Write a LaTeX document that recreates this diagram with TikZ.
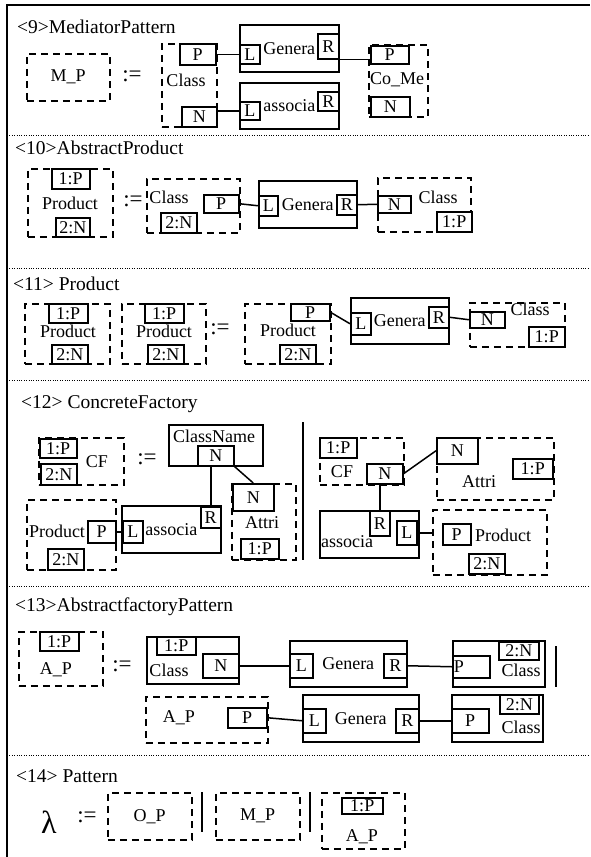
\documentclass[tikz,border=0pt]{standalone}
\usepackage{fontspec}
\setmainfont{Liberation Serif}
\usepackage{tikz}
\usetikzlibrary{positioning}
\newcommand{\lblfont}{\fontsize{18}{18}\selectfont}
\newcommand{\headfont}{\fontsize{19.5}{20}\selectfont}
\tikzset{
  wh/.style 2 args={minimum width=#1pt,minimum height=#2pt},
  box-dash/.style={draw,line width=1.5pt,dash pattern=on 7pt off 5pt,
    anchor=north west,inner sep=0pt,font=\lblfont},
  box-solid/.style={draw,line width=1.5pt,anchor=north west,inner sep=0pt,
    font=\lblfont},
  box-port/.style={draw,line width=1.5pt,fill=white,anchor=north west,
    inner sep=0pt,font=\lblfont},
  txt-label/.style={inner sep=0pt,font=\lblfont},
  txt-def/.style={inner sep=0pt,font=\fontsize{23}{23}\selectfont},
  txt-head/.style={anchor=base west,inner sep=0pt,font=\headfont},
  sep-dot/.style={line width=0.7pt,dash pattern=on 0.8pt off 1.6pt},
  sep-bar/.style={line width=1.5pt},
  link/.style={line width=1.5pt},
  frame/.style={line width=2pt},
}

\begin{document}
\begin{tikzpicture}[x=1pt,y=-1pt]
  \useasboundingbox (0,0) rectangle (590,857);
  \draw[frame] (7,857) -- (7,5) -- (590,5);
  \foreach \y in {135,268,380,586,755}
    \draw[sep-dot] (7,\y) -- (590,\y);

  % <9>
  \node[txt-head] (h9) at (17,33) {<9>MediatorPattern};
  \node[box-dash,wh={83}{47}] (mp9) at (26,53) {M\_P};
  \node[txt-def] (def9) at (132,76) {:=};
  \node[box-dash,wh={55}{83}] (cl9) at (161,43) {};
  \node[box-port,wh={36}{21}] (cl9P) at (179,43) {P};
  \node[txt-label] (cl9t) at (186,80) {Class};
  \node[box-port,wh={35}{20}] (cl9N) at (181,106) {N};
  \node[box-solid,wh={99}{47}] (gen9) at (239,24) {Genera};
  \node[box-port,wh={20}{19}] (gen9L) at (239,44) {L};
  \node[box-port,wh={21}{25}] (gen9R) at (317,33) {R};
  \node[box-solid,wh={99}{46}] (as9) at (239,82) {associa};
  \node[box-port,wh={20}{18}] (as9L) at (239,101) {L};
  \node[box-port,wh={21}{19}] (as9R) at (317,91) {R};
  \node[box-dash,wh={59}{72}] (cm9) at (368,44) {};
  \node[box-port,wh={38}{18}] (cm9P) at (370,45) {P};
  \node[txt-label] (cm9t) at (397,80) {Co\_Me};
  \node[box-port,wh={39}{20}] (cm9N) at (370,96) {N};
  \draw[link] (cl9P.east) -- (gen9L.west);
  \draw[link] (as9L.west) -- (as9L.west -| cl9N.east);
  \draw[link] (gen9R.south east) -- (gen9R.south east -| cm9P.west);

  % <10>
  \node[txt-head] (h10) at (15,154) {<10>AbstractProduct};
  \node[box-dash,wh={85}{68}] (pr10) at (27,168) {};
  \node[box-port,wh={38}{20}] (pr10a) at (51,168) {1:P};
  \node[txt-label] (pr10t) at (70,203) {Product};
  \node[box-port,wh={34}{19}] (pr10b) at (55,217) {2:N};
  \node[txt-def] (def10) at (133,201) {:=};
  \node[box-dash,wh={93}{54}] (cl10) at (146,178) {};
  \node[txt-label] (cl10t) at (169,197) {Class};
  \node[box-port,wh={35}{18}] (cl10P) at (203,194) {P};
  \node[box-port,wh={36}{20}] (cl10N) at (160,212) {2:N};
  \node[box-solid,wh={98}{47}] (gen10) at (258,180) {Genera};
  \node[box-port,wh={19}{20}] (gen10L) at (258,195) {L};
  \node[box-port,wh={20}{20}] (gen10R) at (336,194) {R};
  \node[box-dash,wh={93}{54}] (cr10) at (377,177) {};
  \node[box-port,wh={33}{17}] (cr10N) at (377,195) {N};
  \node[txt-label] (cr10t) at (438,197) {Class};
  \node[box-port,wh={35}{20}] (cr10P) at (436,211) {1:P};
  \draw[link] (cl10P.east) -- (gen10L.west);
  \draw[link] (gen10R.east) -- (cr10N.west);

  % <11>
  \node[txt-head] (h11) at (13,290) {<11> Product};
  \node[box-dash,wh={85}{60}] (pa11) at (24,303) {};
  \node[box-port,wh={39}{19}] (pa11a) at (48,303) {1:P};
  \node[txt-label] (pa11t) at (68,331) {Product};
  \node[box-port,wh={36}{19}] (pa11b) at (51,344) {2:N};
  \node[box-dash,wh={84}{60}] (pb11) at (121,303) {};
  \node[box-port,wh={39}{19}] (pb11a) at (144,303) {1:P};
  \node[txt-label] (pb11t) at (164,331) {Product};
  \node[box-port,wh={36}{19}] (pb11b) at (147,344) {2:N};
  \node[txt-def] (def11) at (220,329) {:=};
  \node[box-dash,wh={86}{60}] (pc11) at (244,303) {};
  \node[box-port,wh={39}{17}] (pc11P) at (290,303) {P};
  \node[txt-label] (pc11t) at (288,330) {Product};
  \node[box-port,wh={36}{19}] (pc11b) at (279,344) {2:N};
  \node[box-solid,wh={98}{46}] (gen11) at (350,297) {Genera};
  \node[box-port,wh={20}{22}] (gen11L) at (350,312) {L};
  \node[box-port,wh={20}{21}] (gen11R) at (428,306) {R};
  \node[box-dash,wh={95}{44}] (cl11) at (469,302) {};
  \node[box-port,wh={35}{16}] (cl11N) at (469,311) {N};
  \node[txt-label] (cl11t) at (530,309) {Class};
  \node[box-port,wh={36}{20}] (cl11P) at (528,326) {1:P};
  \draw[link] (pc11P.east) -- (gen11L.west);
  \draw[link] (gen11R.east) -- (cl11N.west);

  % <12>
  \node[txt-head] (h12) at (21,408) {<12> ConcreteFactory};
  \node[box-dash,wh={85}{47}] (cf12) at (38,437) {};
  \node[box-port,wh={37}{19}] (cf12a) at (39,438) {1:P};
  \node[box-port,wh={36}{21}] (cf12b) at (40,463) {2:N};
  \node[txt-label] (cf12t) at (97,462) {CF};
  \node[txt-def] (def12) at (147,459) {:=};
  \node[box-solid,wh={94}{41}] (cn12) at (168,424) {};
  \node[txt-label] (cn12t) at (214,436) {ClassName};
  \node[box-port,wh={36}{20}] (cn12N) at (197,445) {N};
  \node[box-dash,wh={89}{70}] (pr12) at (26,499) {};
  \node[txt-label] (pr12t) at (57,531) {Product};
  \node[box-port,wh={28}{22}] (pr12P) at (87,520) {P};
  \node[box-port,wh={36}{21}] (pr12b) at (47,548) {2:N};
  \node[box-solid,wh={99}{47}] (as12) at (121,505) {associa};
  \node[box-port,wh={20}{22}] (as12L) at (122,520) {L};
  \node[box-port,wh={20}{21}] (as12R) at (200,506) {R};
  \node[box-dash,wh={64}{76}] (at12) at (231,483) {};
  \node[box-port,wh={41}{27}] (at12N) at (232,483) {N};
  \node[txt-label] (at12t) at (262,523) {Attri};
  \node[box-port,wh={38}{20}] (at12P) at (240,538) {1:P};
  \draw[link] (as12R.north) -- (as12R.north |- cn12N.south);
  \draw[link] (cn12N.south east) -- (at12N.north);
  \draw[link] (pr12P.east) -- (as12L.west);
  \draw[sep-bar] (303,422) -- (303,560);
  \node[box-dash,wh={84}{47}] (cf12r) at (319,437) {};
  \node[box-port,wh={37}{20}] (cf12rA) at (319,437) {1:P};
  \node[txt-label] (cf12rt) at (342,472) {CF};
  \node[box-port,wh={36}{20}] (cf12rN) at (366,463) {N};
  \node[box-dash,wh={117}{62}] (at12r) at (436,437) {};
  \node[box-port,wh={41}{26}] (at12rN) at (436,437) {N};
  \node[box-port,wh={40}{20}] (at12rP) at (512,458) {1:P};
  \node[txt-label] (at12rt) at (479,482) {Attri};
  \node[box-solid,wh={99}{47}] (as12r) at (319,510) {};
  \node[txt-label] (as12rt) at (347,542) {associa};
  \node[box-port,wh={20}{25}] (as12rR) at (369,510) {R};
  \node[box-port,wh={20}{24}] (as12rL) at (396,520) {L};
  \node[box-dash,wh={114}{65}] (pr12r) at (432,509) {};
  \node[box-port,wh={28}{21}] (pr12rP) at (442,523) {P};
  \node[txt-label] (pr12rt) at (503,535) {Product};
  \node[box-port,wh={36}{20}] (pr12rb) at (468,553) {2:N};
  \draw[link] (cf12rN.east) -- (at12rN.west);
  \draw[link] (as12rR.north) -- (as12rR.north |- cf12rN.south);
  \draw[link] (as12rL.east) -- (as12rL.east -| pr12r.west);

  % <13>
  \node[txt-head] (h13) at (15,611) {<13>AbstractfactoryPattern};
  \node[box-dash,wh={84}{54}] (ap13) at (18,631) {};
  \node[box-port,wh={39}{19}] (ap13a) at (39,631) {1:P};
  \node[txt-label] (ap13t) at (56,670) {A\_P};
  \node[txt-def] (def13) at (122,666) {:=};
  \node[box-solid,wh={92}{47}] (cl13) at (146,636) {};
  \node[box-port,wh={39}{18}] (cl13a) at (156,636) {1:P};
  \node[box-port,wh={36}{24}] (cl13N) at (202,653) {N};
  \node[txt-label] (cl13t) at (169,670) {Class};
  \node[box-solid,wh={117}{46}] (gen13) at (289,640) {Genera};
  \node[box-port,wh={23}{24}] (gen13L) at (289,653) {L};
  \node[box-port,wh={23}{24}] (gen13R) at (383,653) {R};
  \node[box-solid,wh={92}{46}] (cr13) at (452,640) {};
  \node[box-port,wh={40}{18}] (cr13b) at (498,641) {2:N};
  \node[box-port,wh={37}{22},text width=35pt,align=left] (cr13P) at (452,655) {P};
  \node[txt-label] (cr13t) at (521,670) {Class};
  \draw[sep-bar] (556,646) -- (556,687);
  \draw[link] (cl13N.east) -- (gen13L.west);
  \draw[link] (gen13R.east) -- (cr13P.west);
  \node[box-dash,wh={122}{46}] (ap13r) at (145,696) {};
  \node[txt-label] (ap13rt) at (179,718) {A\_P};
  \node[box-port,wh={39}{20}] (ap13rP) at (227,707) {P};
  \node[box-solid,wh={116}{47}] (gen13r) at (302,694) {Genera};
  \node[box-port,wh={23}{24}] (gen13rL) at (302,708) {L};
  \node[box-port,wh={23}{24}] (gen13rR) at (395,708) {R};
  \node[box-solid,wh={91}{47}] (cr13r) at (451,694) {};
  \node[box-port,wh={39}{19}] (cr13rb) at (499,694) {2:N};
  \node[box-port,wh={37}{24}] (cr13rP) at (451,708) {P};
  \node[txt-label] (cr13rt) at (521,727) {Class};
  \draw[link] (ap13rP.east) -- (gen13rL.west);
  \draw[link] (gen13rR.east) -- (cr13rP.west);

  % <14>
  \node[txt-head] (h14) at (16,782) {<14> Pattern};
  \node[txt-label,font=\fontsize{32}{32}\selectfont] (lam) at (49,822) {λ};
  \node[txt-def] (def14) at (87,817) {:=};
  \node[box-dash,wh={84}{47}] (op14) at (107,792) {O\_P};
  \draw[sep-bar] (202,792) -- (202,832);
  \node[box-dash,wh={84}{47}] (mp14) at (215,792) {M\_P};
  \draw[sep-bar] (310,792) -- (310,832);
  \node[box-dash,wh={83}{56}] (ap14) at (321,792) {};
  \node[box-port,wh={41}{16}] (ap14a) at (341,797) {1:P};
  \node[txt-label] (ap14t) at (362,837) {A\_P};
\end{tikzpicture}
\end{document}
